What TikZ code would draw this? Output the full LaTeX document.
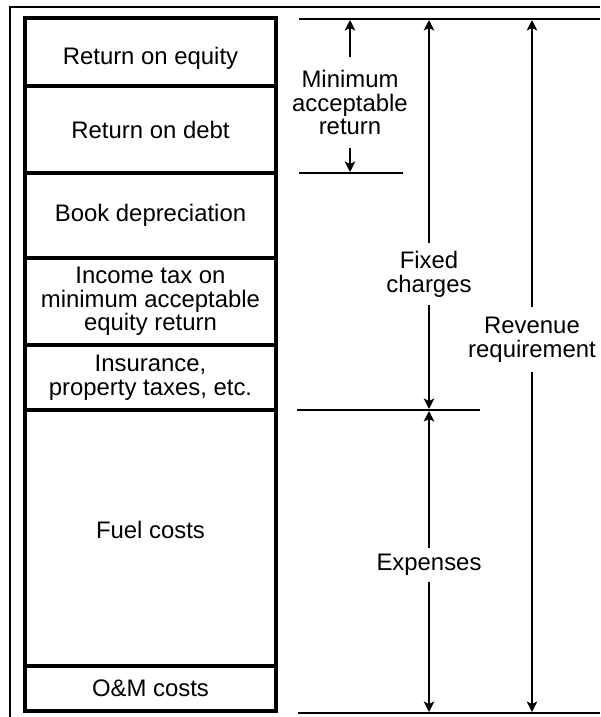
\documentclass[tikz,border=0pt]{standalone}
\usepackage{fontspec}
\setmainfont{Liberation Sans}
\usetikzlibrary{arrows.meta}

\begin{document}
\begin{tikzpicture}[x=1pt,y=-1pt,font=\fontsize{23.9pt}{23.7pt}\selectfont]
			\tikzstyle{box}=[draw, line width=4.8pt, minimum width=251pt, align=center, inner sep=0pt]
			\tikzstyle{lbl}=[align=center, inner sep=8pt]
			\tikzstyle{dim}=[line width=2.8pt]
			\tikzstyle{arr}=[dim, -{Stealth[length=10.5pt,width=10.5pt,inset=2.5pt]}, shorten >=1pt]
			\useasboundingbox (0,0) rectangle (600,717);
			% frame
			\draw[line width=2pt] (10,717) -- (10,6.7) -- (600,6.7);
			% the stack
			\node[box, minimum height=68pt, text height=29pt, text depth=5pt] (equity) at (150.5,52) {Return on equity};
			\node[box, minimum height=87pt] (debt) at (150.5,129.5) {Return on debt};
			\node[box, minimum height=85pt] (depr) at (150.5,215.5) {Book depreciation};
			\node[box, minimum height=87pt] (tax) at (150.5,301.5) {Income tax on\\minimum acceptable\\equity return};
			\node[box, minimum height=65pt] (insur) at (150.5,377.5) {Insurance,\\property taxes, etc.};
			\node[box, minimum height=256pt, text height=17.5pt, text depth=16.8pt] (fuel) at (150.5,538) {Fuel costs};
			\node[box, minimum height=45pt] (om) at (150.5,688.5) {O\&M costs};
			% limits
			\draw[dim] (299,19) -- (600,19);
			\draw[dim] (299,173) -- (403,173);
			\draw[dim] (297,410) -- (480,410);
			\draw[dim] (298,713) -- (600,713);
			\coordinate (t1) at (350,19);
			\coordinate (t2) at (429,19);
			\coordinate (t3) at (532,19);
			\coordinate (m1) at (350,173);
			\coordinate (f1) at (429,410);
			\coordinate (b1) at (429,713);
			\coordinate (b2) at (532,713);
			\node[lbl, inner sep=12.5pt] (minret) at (350,102.5) {Minimum\\acceptable\\return};
			\node[lbl] (fixed) at (429,274) {Fixed\\charges};
			\node[lbl, inner sep=9.5pt] (rev) at (532,339.5) {Revenue\\requirement};
			\node[lbl, inner sep=6pt] (exp) at (429,565) {Expenses};
			\draw[arr] (minret) -- (t1);
			\draw[arr] (minret) -- (m1);
			\draw[arr] (fixed) -- (t2);
			\draw[arr] (fixed) -- (f1);
			\draw[arr] (rev) -- (t3);
			\draw[arr] (rev) -- (b2);
			\draw[arr] (exp) -- (f1);
			\draw[arr] (exp) -- (b1);
		\end{tikzpicture}
\end{document}
